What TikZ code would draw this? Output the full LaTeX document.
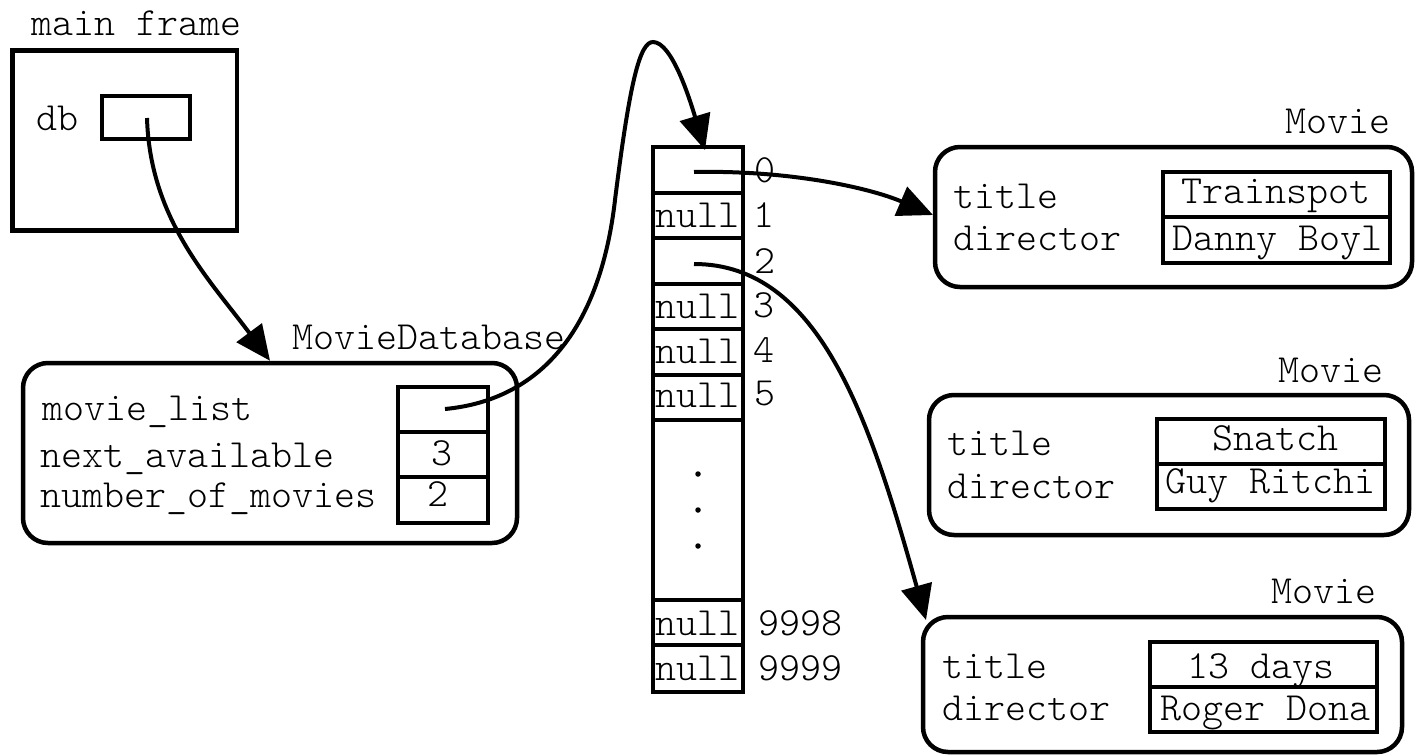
\documentclass[tikz,border=0pt]{standalone}
\usepackage{fontspec}
\newfontfamily\cour{Latin Modern Mono Light}
\usetikzlibrary{arrows.meta}
\begin{document}
\begin{tikzpicture}[x=1pt,y=-1pt,
  lbl/.style={inner sep=0pt, font=\cour\fontsize{40}{44}\selectfont},
  boxframe/.style={draw, line width=4.5pt, inner sep=0pt},
  objbox/.style={draw, line width=4.5pt, inner sep=0pt, rounded corners=25pt},
  cellbox/.style={draw, line width=4pt, inner sep=0pt},
  ptr/.style={line width=4pt, -{Triangle[length=35pt,width=31pt]}},
  dotlbl/.style={inner sep=0pt, font=\cour\fontsize{40}{44}\selectfont, anchor=base},
  vdot/.style={circle, fill, inner sep=0pt, minimum size=5.5pt}
]
\useasboundingbox (0,0) rectangle (1418,755);

% main frame
\node[lbl, anchor=base west] (mftitle) at (31,35) {main frame};
\node[boxframe, minimum width=224.5pt, minimum height=180pt] (mainframe) at (124.75,140.5) {};
\node[lbl, anchor=base west] (dblbl) at (36,130) {db};
\node[boxframe, minimum width=88pt, minimum height=43pt] (db) at (146,117.5) {};

% MovieDatabase
\node[lbl, anchor=base west] (mdbtitle) at (292,349) {MovieDatabase};
\node[objbox, minimum width=494pt, minimum height=180pt] (mdb) at (270,453) {};
\node[lbl, anchor=base west] (f1) at (42,420) {movie\_list};
\node[lbl, anchor=base west] (f2) at (40,467) {next\_available};
\node[lbl, anchor=base west] (f3) at (40,507) {number\_of\_movies};
\node[cellbox, minimum width=90pt, minimum height=45pt] (mlv) at (443,409.5) {};
\node[cellbox, minimum width=90pt, minimum height=45pt] (nav) at (443,454.5) {};
\node[cellbox, minimum width=90pt, minimum height=46pt] (nmv) at (443,500) {};
\node[dotlbl] (navt) at (442,465) {3};
\node[dotlbl] (nmvt) at (438,506) {2};

% array
\foreach \i in {0,...,5}
  \node[cellbox, minimum width=90pt, minimum height=45.5pt] (arr\i) at (698,{169.75+45.5*\i}) {};
\node[cellbox, minimum width=90pt, minimum height=180pt] (arrdots) at (698,510) {};
\node[cellbox, minimum width=90pt, minimum height=45pt] (arrA) at (698,622.5) {};
\node[cellbox, minimum width=90pt, minimum height=47pt] (arrB) at (698,668.5) {};
\node[lbl, anchor=base west] (n1) at (655,227) {null};
\node[lbl, anchor=base west] (n3) at (655,318) {null};
\node[lbl, anchor=base west] (n4) at (655,363) {null};
\node[lbl, anchor=base west] (n5) at (655,407) {null};
\node[lbl, anchor=base west] (nA) at (655,635) {null};
\node[lbl, anchor=base west] (nB) at (655,680) {null};
\node[lbl, anchor=base west] (i0) at (754,182) {0};
\node[lbl, anchor=base west] (i1) at (753,227) {1};
\node[lbl, anchor=base west] (i2) at (754,273) {2};
\node[lbl, anchor=base west] (i3) at (753,317) {3};
\node[lbl, anchor=base west] (i4) at (753,362) {4};
\node[lbl, anchor=base west] (i5) at (754,405) {5};
\node[lbl, anchor=base west] (iA) at (758,635) {9998};
\node[lbl, anchor=base west] (iB) at (758,680) {9999};
\node[vdot] (dot1) at (698,474) {};
\node[vdot] (dot2) at (698,510) {};
\node[vdot] (dot3) at (698,546) {};

% Movie 1
\node[lbl, anchor=base west] (m1t) at (1285,133) {Movie};
\node[objbox, minimum width=477pt, minimum height=140pt] (m1) at (1173.5,217) {};
\node[lbl, anchor=base west] (m1a) at (953,208) {title};
\node[lbl, anchor=base west] (m1b) at (953,250) {director};
\node[cellbox, minimum width=227pt, minimum height=45pt] (m1v1) at (1276.5,194.5) {};
\node[cellbox, minimum width=227pt, minimum height=46pt] (m1v2) at (1276.5,240) {};
\node[dotlbl] (m1x) at (1276,203) {Trainspot};
\node[dotlbl] (m1y) at (1277.5,250) {Danny Boyl};

% Movie 2
\node[lbl, anchor=base west] (m2t) at (1278,382) {Movie};
\node[objbox, minimum width=480pt, minimum height=140pt] (m2) at (1169,465) {};
\node[lbl, anchor=base west] (m2a) at (947,455) {title};
\node[lbl, anchor=base west] (m2b) at (947,498) {director};
\node[cellbox, minimum width=228pt, minimum height=45pt] (m2v1) at (1271,441.5) {};
\node[cellbox, minimum width=228pt, minimum height=45pt] (m2v2) at (1271,486.5) {};
\node[dotlbl] (m2x) at (1275,450) {Snatch};
\node[dotlbl] (m2y) at (1270,493) {Guy Ritchi};

% Movie 3
\node[lbl, anchor=base west] (m3t) at (1271,603) {Movie};
\node[objbox, minimum width=479pt, minimum height=135pt] (m3) at (1162.5,684.5) {};
\node[lbl, anchor=base west] (m3a) at (942,678) {title};
\node[lbl, anchor=base west] (m3b) at (942,720) {director};
\node[cellbox, minimum width=227pt, minimum height=45pt] (m3v1) at (1263.5,664.5) {};
\node[cellbox, minimum width=227pt, minimum height=45pt] (m3v2) at (1263.5,709.5) {};
\node[dotlbl] (m3x) at (1261,678) {13 days};
\node[dotlbl] (m3y) at (1265,720) {Roger Dona};

% pointer ends
\coordinate (dbp) at (147,118);
\coordinate (mlp) at (445,409);
\coordinate (a0p) at (694,172);
\coordinate (a2p) at (694,264);
\coordinate (arrin) at (705,150);
\coordinate (m1in) at (933,215);
\coordinate (m3in) at (926,620);

% connectors
\draw[ptr] (dbp) .. controls (150,220) and (210,280) .. (mdb.north);
\draw[ptr] (mlp) .. controls (540,400) and (600,330) .. (615,200)
  .. controls (630,80) and (640,42) .. (653,42)
  .. controls (672,42) and (690,100) .. (arrin);
\draw[ptr] (a0p) .. controls (790,170) and (870,188) .. (m1in);
\draw[ptr] (a2p) .. controls (820,264) and (870,420) .. (m3in);
\end{tikzpicture}
\end{document}
